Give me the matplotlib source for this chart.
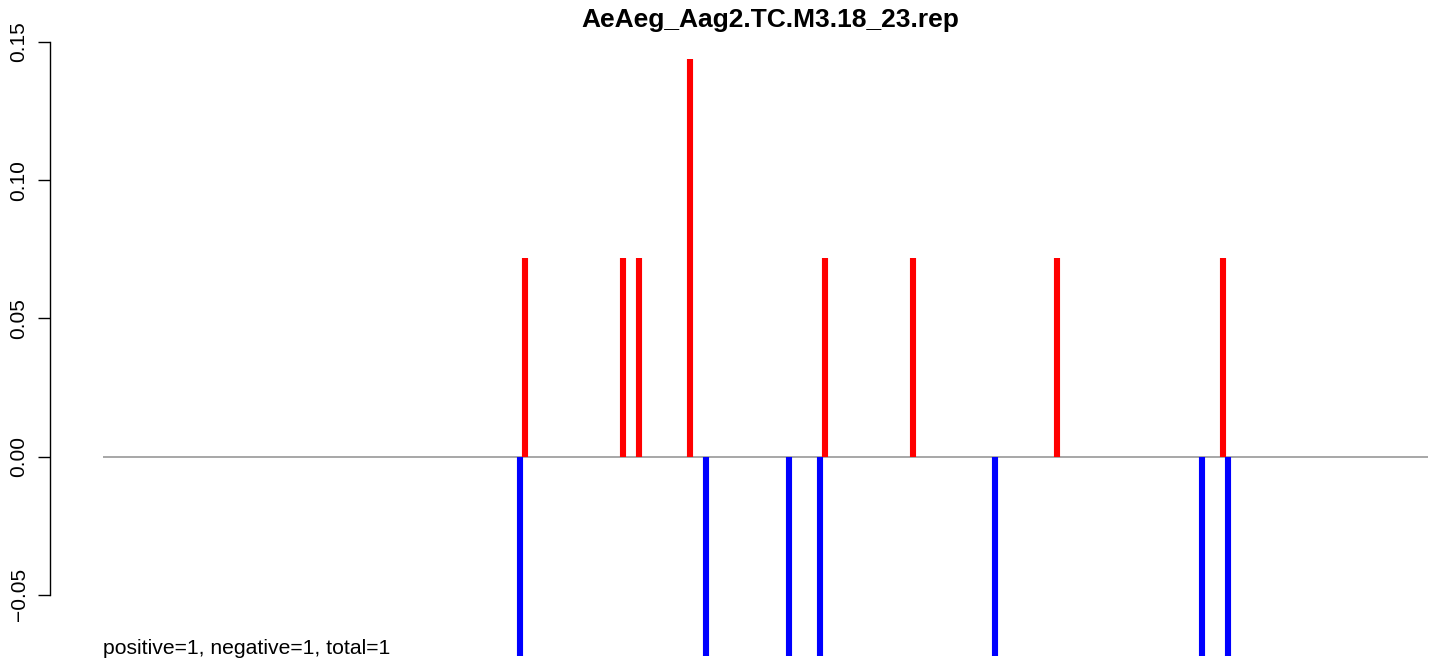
import matplotlib
matplotlib.use("Agg")
from matplotlib import pyplot as plt

# positions along the sequence (arbitrary units) and heights
pos_x = [422, 520, 536, 587, 722, 810, 954, 1120]
pos_y = [0.072, 0.072, 0.072, 0.144, 0.072, 0.072, 0.072, 0.072]
neg_x = [417, 603, 686, 717, 892, 1099, 1125]
neg_y = [-0.072, -0.072, -0.072, -0.072, -0.072, -0.072, -0.072]
yticks = [-0.05, 0.00, 0.05, 0.10, 0.15]
ytick_labels = ["\u22120.05", "0.00", "0.05", "0.10", "0.15"]
title = "AeAeg_Aag2.TC.M3.18_23.rep"
note = "positive=1, negative=1, total=1"

plt.rcParams['font.family'] = ['Liberation Sans', 'DejaVu Sans']

W, H = 1429, 661
fig = plt.figure(figsize=(W / 100, H / 100), dpi=100)
# plot region in pixels: x 103..1428, y 35..661
ax = fig.add_axes([103 / W, 0, (1428 - 103) / W, (661 - 35) / H])
ax.set_xlim(0, 1325)
ax.set_ylim(-0.0739, 0.1525)

ax.axhline(0, color="#a0a0a0", lw=1.3, zorder=1)
ax.vlines(pos_x, 0, pos_y, color="#ff0000", lw=4.4, capstyle="butt", zorder=2)
ax.vlines(neg_x, 0, neg_y, color="#0000ff", lw=4.4, capstyle="butt", zorder=2)

for s in ["top", "right", "bottom"]:
    ax.spines[s].set_visible(False)
ax.spines["left"].set_position(("outward", 38))
ax.spines["left"].set_bounds(-0.05, 0.15)
ax.spines["left"].set_linewidth(1.0)
ax.set_xticks([])
ax.set_yticks(yticks)
ax.set_yticklabels(ytick_labels, rotation=90, va="center", fontsize=15)
ax.tick_params(axis="y", length=8.6, width=1.0, pad=7)

fig.text(770 / W, 1 - 20 / H, title, ha="center", va="center",
         fontsize=19, fontweight="bold")
fig.text(103 / W, 1 - 649 / H, note, ha="left", va="center", fontsize=15.2)

fig.savefig("out.png", dpi=100)
